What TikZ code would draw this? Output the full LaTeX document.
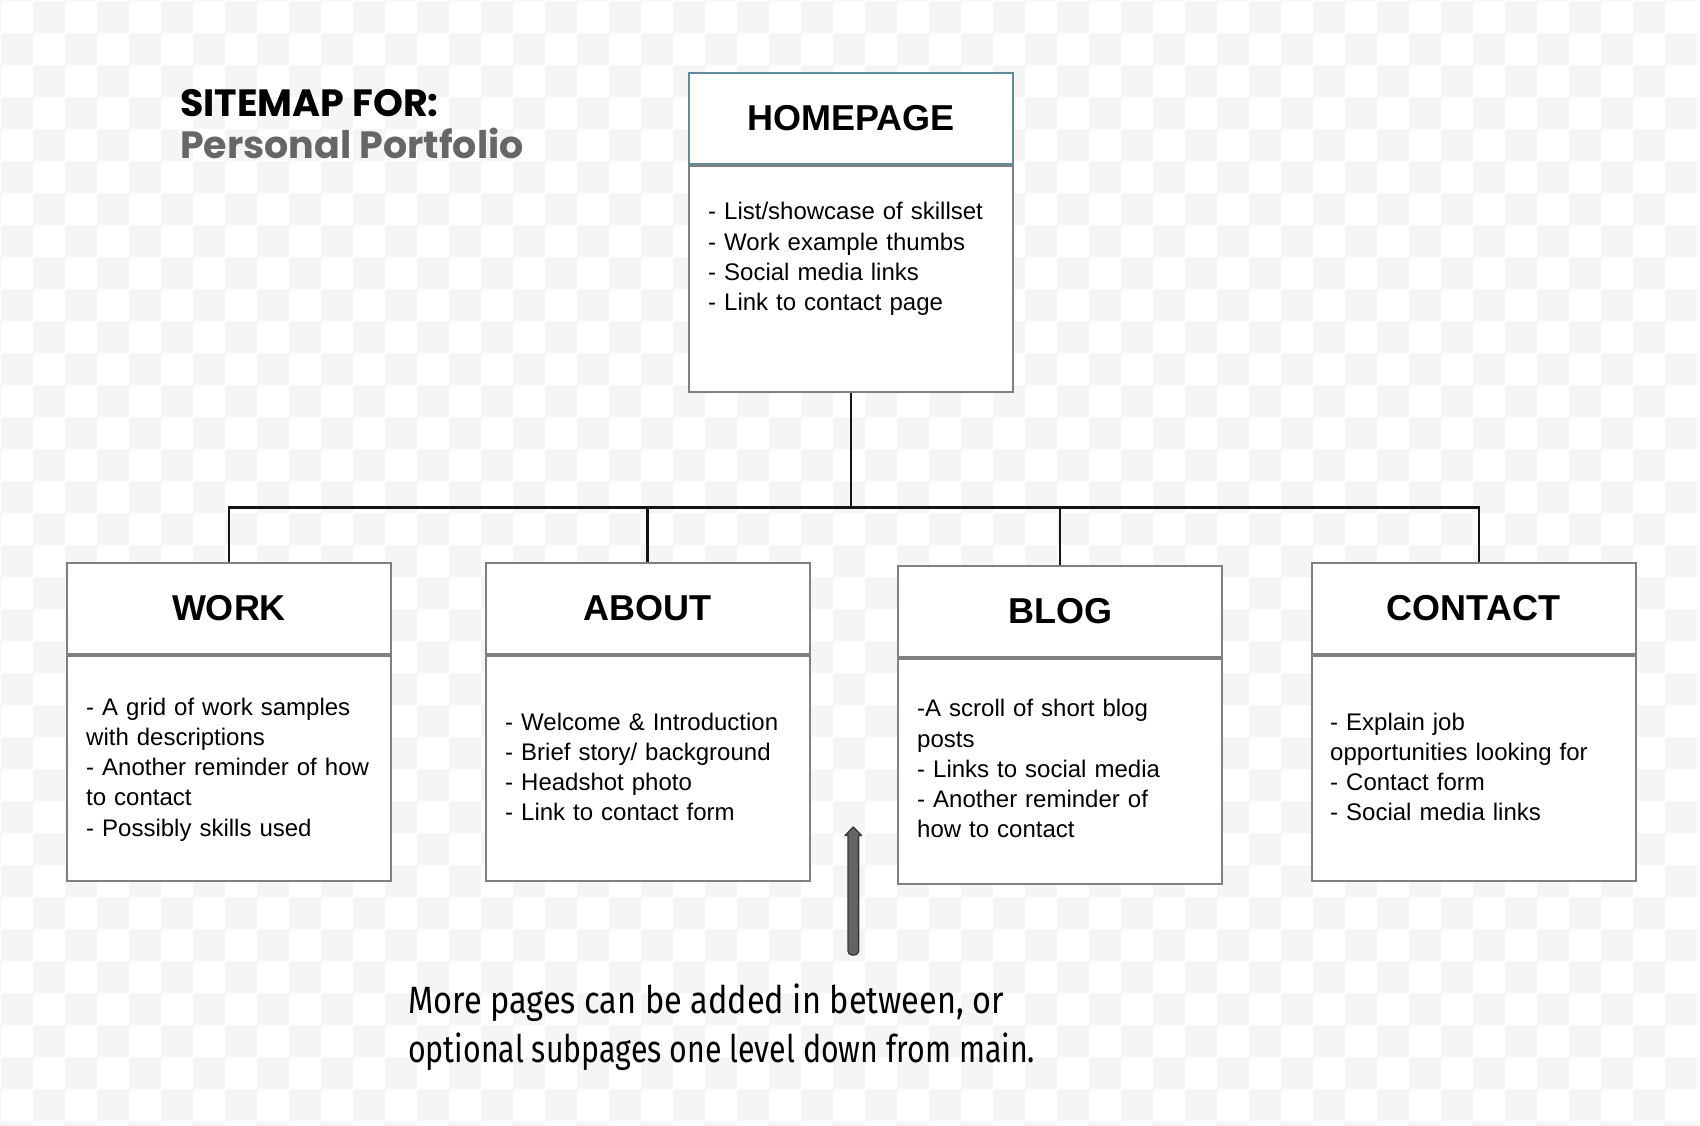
\documentclass[tikz,border=0pt]{standalone}
\usepackage{fontspec}
\usepackage{graphicx}
\setmainfont{Liberation Sans}
\newfontfamily\titlefont{Poppins}
\newfontfamily\handfont{Fira Sans}
\usetikzlibrary{calc}

\definecolor{checker}{RGB}{245,245,245}
\definecolor{boxline}{RGB}{128,128,128}
\definecolor{homeline}{RGB}{95,140,152}
\definecolor{subtitlegray}{RGB}{102,102,102}
\definecolor{arrowfill}{RGB}{100,100,100}
\definecolor{arrowline}{RGB}{55,55,55}

\begin{document}
\begin{tikzpicture}[x=1pt, y=-1pt,
  pagehead/.style={draw=boxline, line width=2pt, fill=white,
    minimum width=324pt, minimum height=91pt, inner sep=0pt,
    font=\fontsize{36}{40}\selectfont\bfseries},
  pagebody/.style={draw=boxline, line width=2pt, fill=white,
    minimum width=324pt, minimum height=225pt, inner sep=0pt, anchor=north},
  bodytext/.style={anchor=base west, align=left, text width=300pt,
    inner sep=0pt, font=\fontsize{24}{30.3}\selectfont},
  titletext/.style={anchor=base west, inner sep=0pt,
    font=\titlefont\bfseries\fontsize{38}{42}\selectfont},
  notetext/.style={anchor=base west, inner sep=0pt,
    font=\handfont\fontsize{38}{42}\selectfont},
  conn/.style={line width=2.5pt, draw=black!92, line join=miter},
]
\useasboundingbox (0,0) rectangle (1700,1126);

% checkered backdrop
\begin{scope}
  \clip (0,0) rectangle (1700,1126);
  \fill[white] (0,0) rectangle (1700,1126);
  \foreach \i in {-1,...,52} {
    \foreach \j in {-1,...,35} {
      \ifodd\numexpr\i+\j+2\relax
        \fill[checker] (1+32*\i,1+32*\j) rectangle ++(32,32);
      \fi
    }
  }
\end{scope}

% title
\node[titletext] (title) at (180,117) {SITEMAP FOR:};
\node[titletext, text=subtitlegray] (subtitle) at (180,158.3) {Personal Portfolio};

% homepage
\node[pagehead, draw=homeline] (homehead) at (851,118.5) {HOMEPAGE};
\node[pagebody, minimum height=226pt] (homebody) at (homehead.south) {};
\node[bodytext] (hometext) at (708,220)
  {- List/showcase of skillset\\- Work example thumbs\\- Social media links\\- Link to contact page};

% second level pages
\node[pagehead] (workhead) at (229,608.5) {WORK};
\node[pagebody] (workbody) at (workhead.south) {};
\node[bodytext] (worktext) at (86,715)
  {- A grid of work samples\\with descriptions\\- Another reminder of how\\to contact\\- Possibly skills used};

\node[pagehead] (abouthead) at (647.5,608) {ABOUT};
\node[pagebody] (aboutbody) at (abouthead.south) {};
\node[bodytext] (abouttext) at (505,730)
  {- Welcome \& Introduction\\- Brief story/ background\\- Headshot photo\\- Link to contact form};

\node[pagehead] (bloghead) at (1060,611.2) {BLOG};
\node[pagebody] (blogbody) at (bloghead.south) {};
\node[bodytext] (blogtext) at (917,716.7)
  {-A scroll of short blog\\posts\\- Links to social media\\- Another reminder of\\how to contact};

\node[pagehead] (contacthead) at (1473.5,608.5) {CONTACT};
\node[pagebody] (contactbody) at (contacthead.south) {};
\node[bodytext] (contacttext) at (1330,730)
  {- Explain job\\opportunities looking for\\- Contact form\\- Social media links};

% tree connectors
\coordinate (bus) at (851,507.7);
\coordinate (contactdrop) at ($(contacthead.north)+(5.5,0)$);
\draw[conn] (homebody.south) -- (bus);
\draw[conn] (workhead.north) |- (bus) -| (contactdrop);
\draw[conn] (abouthead.north) -- (abouthead.north |- bus);
\draw[conn] (bloghead.north) -- (bloghead.north |- bus);

% pointer arrow
\coordinate (tip) at (853.3,827);
\coordinate (tail) at (853.3,955);
\filldraw[fill=arrowfill, draw=arrowline, line width=1.3pt, line join=round]
  (tip) -- ($(tip)+(8.3,8.5)$) -- ($(tip)+(5.3,8.5)$)
  [rounded corners=4pt] -- ($(tail)+(5.3,0)$) -- ($(tail)+(-5.3,0)$)
  [sharp corners] -- ($(tip)+(-5.3,8.5)$) -- ($(tip)+(-8.3,8.5)$) -- cycle;

% note
\node[notetext] (note1) at (408,1013)
  {\resizebox{596pt}{\height}{More pages can be added in between, or}};
\node[notetext] (note2) at (408,1062)
  {\resizebox{627pt}{\height}{optional subpages one level down from main.}};
\end{tikzpicture}
\end{document}
